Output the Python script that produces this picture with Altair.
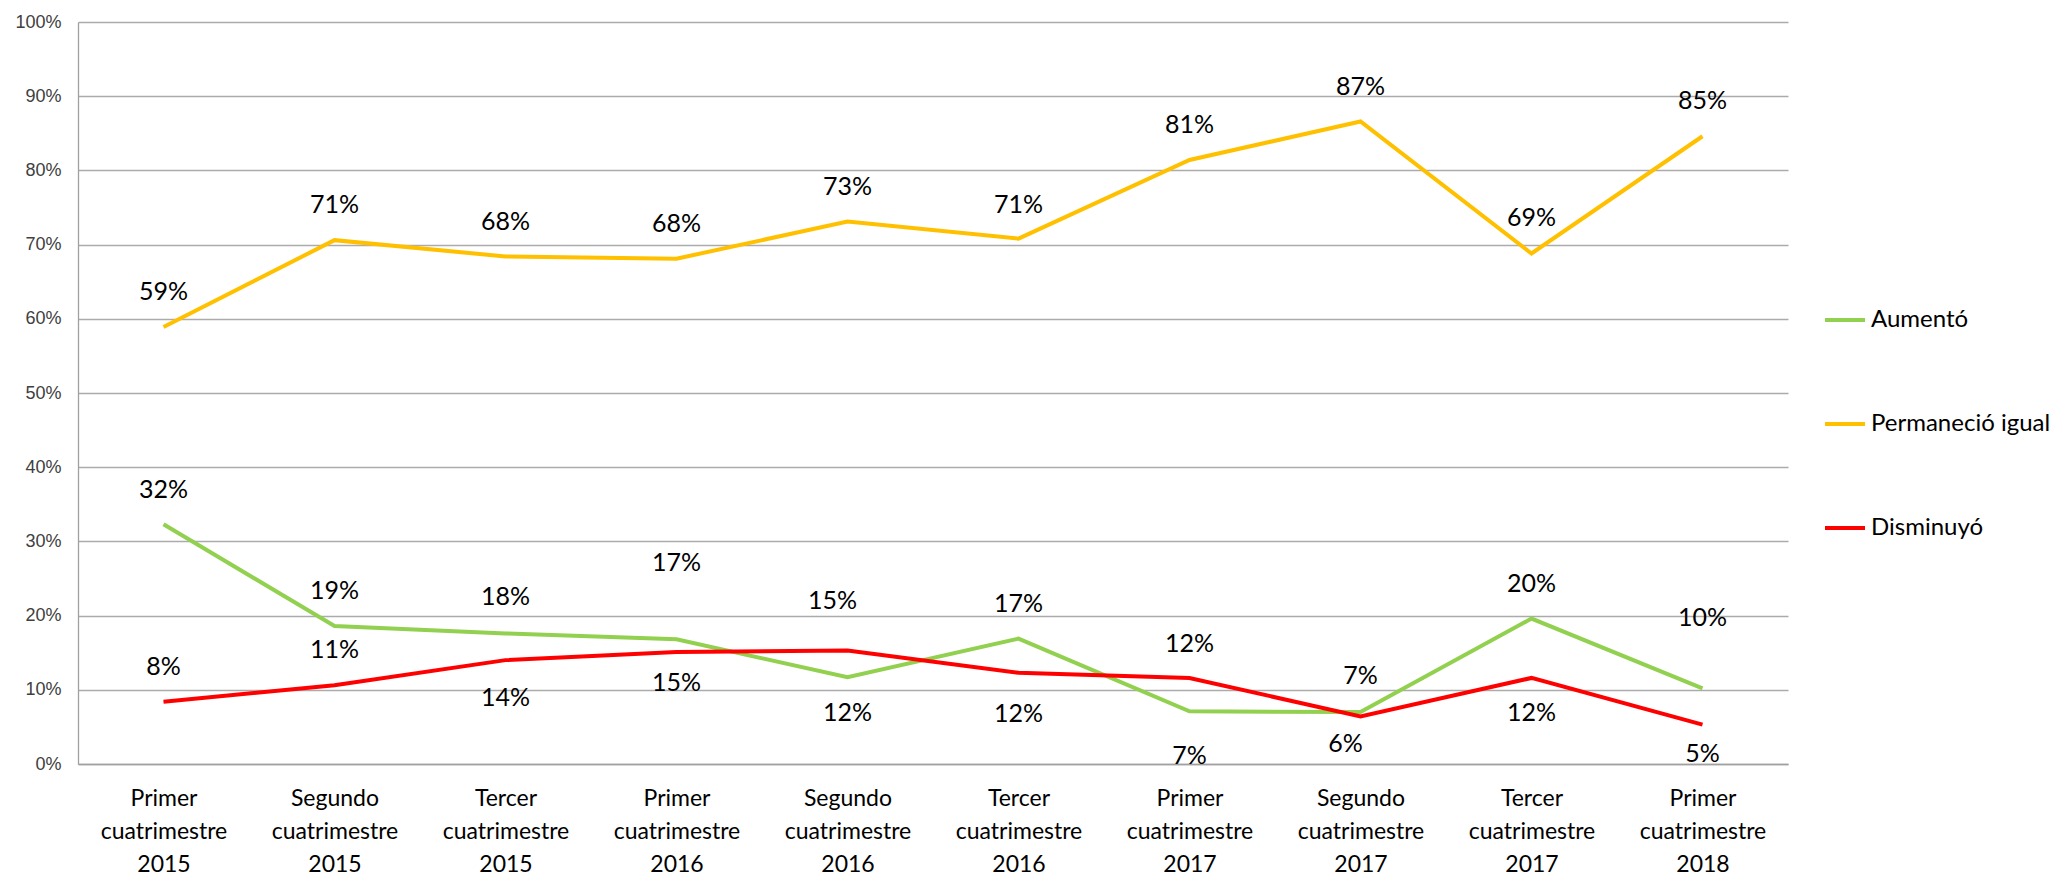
import altair as alt
import pandas as pd

categories = [
    "Primer cuatrimestre 2015", "Segundo cuatrimestre 2015", "Tercer cuatrimestre 2015",
    "Primer cuatrimestre 2016", "Segundo cuatrimestre 2016", "Tercer cuatrimestre 2016",
    "Primer cuatrimestre 2017", "Segundo cuatrimestre 2017", "Tercer cuatrimestre 2017",
    "Primer cuatrimestre 2018",
]
series_names = ["Aumentó", "Permaneció igual", "Disminuyó"]
aumento = [0.323, 0.186, 0.176, 0.168, 0.117, 0.169, 0.071, 0.070, 0.196, 0.102]
permanecio = [0.589, 0.706, 0.684, 0.681, 0.731, 0.708, 0.814, 0.866, 0.688, 0.846]
disminuyo = [0.084, 0.106, 0.140, 0.151, 0.153, 0.123, 0.116, 0.064, 0.116, 0.053]
series_colors = ["#92D050", "#FFC000", "#FF0000"]
y_ticks = [0, 0.1, 0.2, 0.3, 0.4, 0.5, 0.6, 0.7, 0.8, 0.9, 1.0]

# label placement (pixels relative to the point; layout only)
label_dy_aumento = [-34, -35, -36, -76, 36, -35, 45, -36, -35, -70]
label_dy_permanecio = [-35, -35, -34, -35, -35, -34, -35, -34, -36, -35]
label_dy_disminuyo = [-35, -35, 38, 31, -49, 41, -34, 27, 35, 29]
label_dx_disminuyo = [0, 0, 0, 0, -15, 0, 0, -15, 0, 0]

rows = []
for name, vals, dys, dxs in [
    (series_names[0], aumento, label_dy_aumento, [0] * 10),
    (series_names[1], permanecio, label_dy_permanecio, [0] * 10),
    (series_names[2], disminuyo, label_dy_disminuyo, label_dx_disminuyo),
]:
    for i, c in enumerate(categories):
        rows.append({"cat": c, "serie": name, "valor": vals[i], "dy": dys[i], "dx": dxs[i], "ord": i})
df = pd.DataFrame(rows)

FONT = "Lato"

x_scale = alt.Scale(type="point", padding=0.5)
y_scale = alt.Scale(domain=[0, 1], nice=False)

x_enc = alt.X(
    "cat:N", sort=categories, title=None, scale=x_scale,
    axis=alt.Axis(
        labelAngle=0, ticks=False, domainColor="#A0A0A0", domainWidth=1.3,
        labelExpr="split(datum.label, ' ')", labelFont=FONT, labelFontSize=23,
        labelLineHeight=33, labelBaseline="top", labelPadding=23, labelColor="#000000",
        labelLimit=300, grid=False,
    ),
)
y_enc = alt.Y(
    "valor:Q", title=None, scale=y_scale,
    axis=alt.Axis(
        values=y_ticks, format=".0%", ticks=False, domainColor="#A0A0A0", domainWidth=1.3,
        gridColor="#ABABAB", gridWidth=1.4, labelFont="Liberation Sans", labelFontSize=18,
        labelColor="#404040", labelPadding=17,
    ),
)
color_enc = alt.Color(
    "serie:N", sort=series_names,
    scale=alt.Scale(domain=series_names, range=series_colors),
    legend=alt.Legend(
        title=None, orient="none", legendX=1745, legendY=276, direction="vertical",
        symbolType="stroke", symbolSize=1600, symbolStrokeWidth=4,
        labelFont=FONT, labelFontSize=24, labelColor="#000000", labelOffset=4,
        rowPadding=70, padding=0, labelLimit=400,
    ),
)

lines = alt.Chart(df).mark_line(strokeWidth=4).encode(
    x=x_enc, y=y_enc, color=color_enc, order="ord:Q", detail="serie:N"
)

label_layers = []
offsets = sorted(set(zip(df["dx"], df["dy"])))
for dx, dy in offsets:
    label_layers.append(
        alt.Chart(df).transform_filter(
            (alt.datum.dx == int(dx)) & (alt.datum.dy == int(dy))
        ).mark_text(
            font=FONT, fontSize=25, color="#000000", align="center", baseline="middle",
            dx=int(dx), dy=int(dy),
        ).encode(
            x=alt.X("cat:N", sort=categories, scale=x_scale),
            y=alt.Y("valor:Q", scale=y_scale),
            text=alt.Text("valor:Q", format=".0%"),
        )
    )

chart = alt.layer(lines, *label_layers).properties(
    width=1710, height=742,
    autosize=alt.AutoSizeParams(type="none"),
    padding={"left": 70, "top": 14, "right": 271, "bottom": 111},
).configure_view(stroke=None)

chart.save("out.html", embed_options={"renderer": "svg", "actions": False})
